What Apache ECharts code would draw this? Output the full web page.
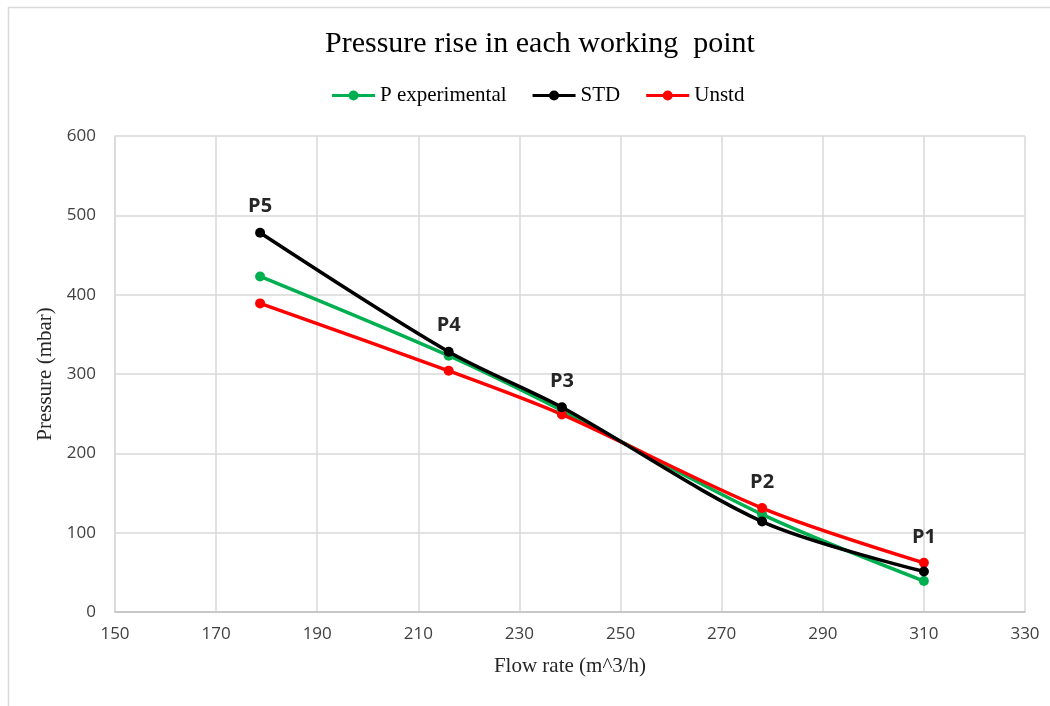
<!DOCTYPE html>
<html>
<head>
<meta charset="utf-8">
<script src="https://cdn.jsdelivr.net/npm/echarts@6/dist/echarts.min.js"></script>
<style>html,body{margin:0;padding:0;background:#fff}#c{width:1050px;height:706px}</style>
</head>
<body>
<div id="c"></div>
<script>
const flowRate = [178.7, 216, 238.4, 278, 310];
const pExperimental = [423, 323, 254, 123, 39];
const stdValues = [478, 328, 258, 114, 51];
const unstdValues = [389, 304, 249, 131, 62];
const pointLabels = ['P5', 'P4', 'P3', 'P2', 'P1'];
// which series carries the point label (top-most curve at that point)
const labelOnStd = [true, true, true, false, false];

const chart = echarts.init(document.getElementById('c'));
const serif = '"Liberation Serif", "Times New Roman", serif';
const sans = '"Open Sans", "Liberation Sans", sans-serif';

function pts(vals, labelFlags) {
  return flowRate.map((x, i) => {
    const d = { value: [x, vals[i]] };
    if (labelFlags && labelFlags[i]) {
      d.label = { show: true, formatter: pointLabels[i] };
    }
    return d;
  });
}

const labelStyle = {
  show: false, position: 'top', distance: 11,
  fontFamily: sans, fontWeight: 'bold', fontSize: 20, color: '#262626'
};

function series(name, color, vals, flags) {
  return {
    name, type: 'line', smooth: 0.3,
    data: pts(vals, flags),
    symbol: 'circle', symbolSize: 10,
    lineStyle: { color, width: 3.5 },
    itemStyle: { color },
    label: labelStyle,
    z: name === 'STD' ? 3 : 2
  };
}

const legendIcon = 'path://M0,3.5L43,3.5L43,6.5L0,6.5Z M16.5,5A5,5 0 1,1 26.5,5A5,5 0 1,1 16.5,5Z';

chart.setOption({
  animation: false,
  backgroundColor: '#fff',
  graphic: [{
    type: 'rect', shape: { x: 8.5, y: 7.5, width: 1100, height: 800 },
    style: { fill: 'none', stroke: '#d9d9d9', lineWidth: 1.5 }, silent: true
  }],
  title: {
    text: 'Pressure rise in each working  point', left: 320, top: 24,
    textStyle: { fontFamily: serif, fontSize: 30, fontWeight: 'normal', color: '#000' }
  },
  legend: {
    top: 80, left: 327, itemGap: 26, itemWidth: 43, itemHeight: 10,
    icon: legendIcon,
    textStyle: { fontFamily: serif, fontSize: 21, color: '#000' },
    data: ['P experimental', 'STD', 'Unstd']
  },
  grid: { left: 115, right: 25, top: 136, bottom: 94 },
  xAxis: {
    type: 'value', min: 150, max: 330, interval: 20,
    name: 'Flow rate (m^3/h)', nameLocation: 'middle', nameGap: 44,
    nameTextStyle: { fontFamily: serif, fontSize: 21, color: '#262626' },
    axisLine: { show: true, lineStyle: { color: '#bfbfbf', width: 1.5 } },
    axisTick: { show: false },
    axisLabel: { fontFamily: sans, fontSize: 17, color: '#404040', margin: 14 },
    splitLine: { show: true, lineStyle: { color: '#d9d9d9', width: 1.5 } }
  },
  yAxis: {
    type: 'value', min: 0, max: 600, interval: 100,
    name: 'Pressure (mbar)', nameLocation: 'middle', nameGap: 56, nameRotate: 90,
    nameTextStyle: { fontFamily: serif, fontSize: 21, color: '#262626' },
    axisLine: { show: true, lineStyle: { color: '#d9d9d9', width: 1.5 } },
    axisTick: { show: false },
    axisLabel: { fontFamily: sans, fontSize: 17, color: '#404040', margin: 19 },
    splitLine: { show: true, lineStyle: { color: '#d9d9d9', width: 1.5 } }
  },
  series: [
    series('P experimental', '#00b050', pExperimental, null),
    series('STD', '#000000', stdValues, labelOnStd),
    series('Unstd', '#ff0000', unstdValues, labelOnStd.map(v => !v))
  ]
});
</script>
</body>
</html>
